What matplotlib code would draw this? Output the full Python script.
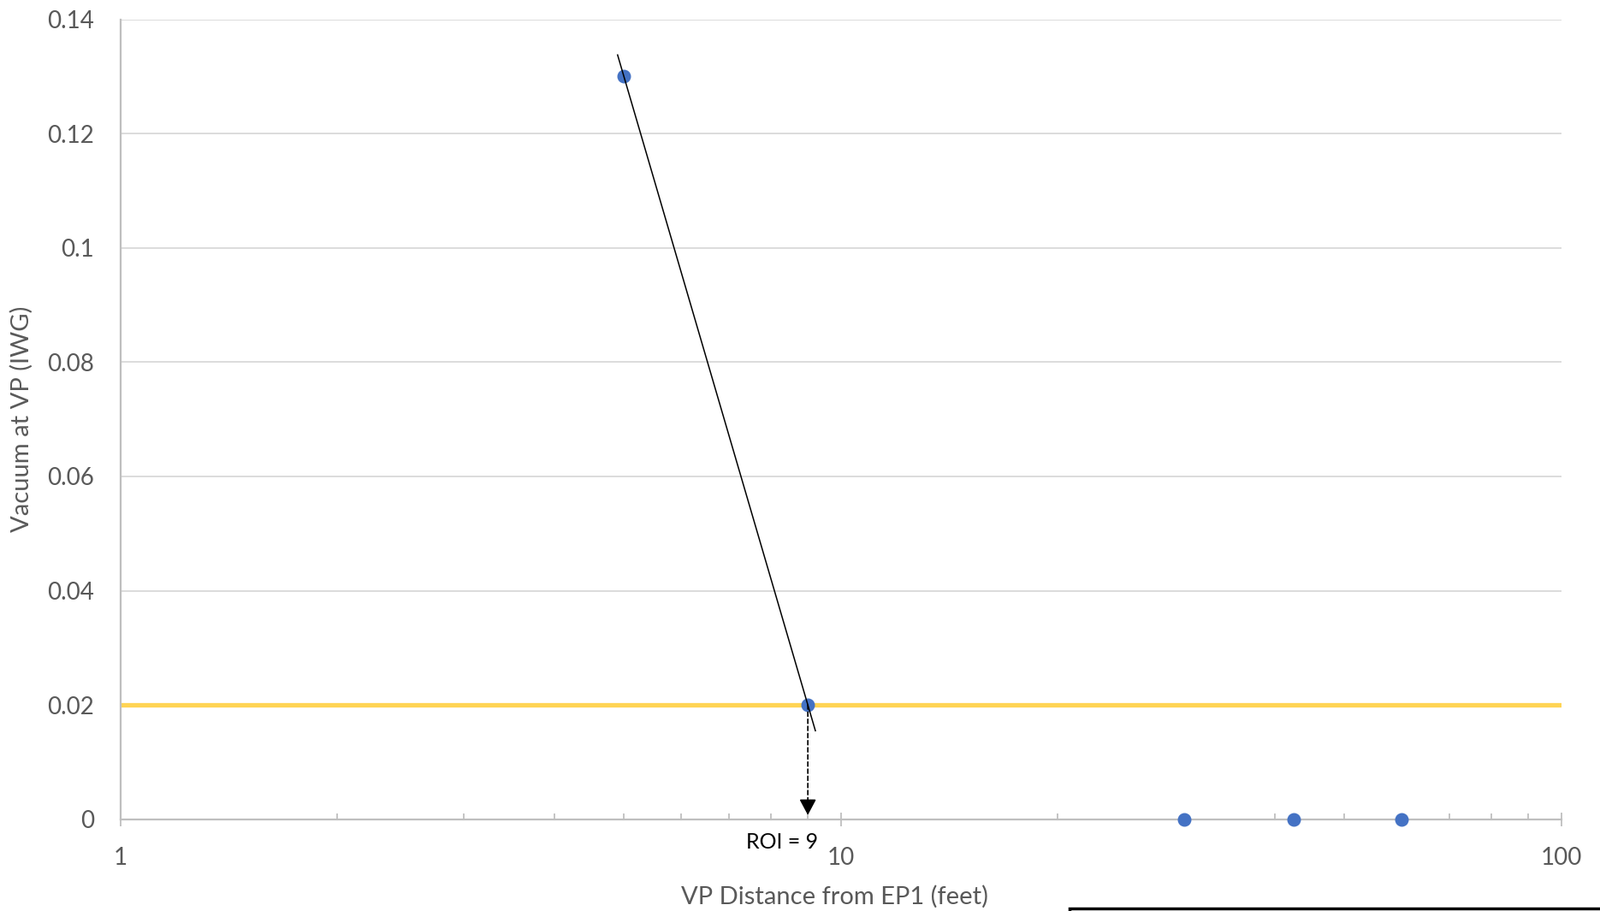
import numpy as np
import matplotlib
matplotlib.use('Agg')
import matplotlib.pyplot as plt
from matplotlib.ticker import MultipleLocator, FuncFormatter, LogLocator, NullFormatter
from matplotlib.patches import Rectangle

plt.rcParams['font.family'] = ['Lato', 'DejaVu Sans']

# data
distance_ft = [5, 9, 30, 42.5, 60]
vacuum_iwg = [0.13, 0.02, 0, 0, 0]
target_vacuum = 0.02
roi_ft = 9
trend_x_span = [4.9, 9.22]   # extent of the log trendline drawn in the sheet

grey = '#595959'

fig = plt.figure(figsize=(18.7, 10.65), dpi=100)
ax = fig.add_axes([0.0752, 0.1008, 0.9006, 0.8779])

ax.set_xscale('log')
ax.set_xlim(1, 100)
ax.set_ylim(0, 0.14)

# gridlines + axes styling (Excel look)
ax.yaxis.set_major_locator(MultipleLocator(0.02))
ax.yaxis.set_major_formatter(FuncFormatter(lambda v, p: f'{v:g}'))
ax.grid(axis='y', color='#D9D9D9', lw=1.3, zorder=0)
ax.set_axisbelow(True)
for s in ['top', 'right']:
    ax.spines[s].set_visible(False)
for s in ['left', 'bottom']:
    ax.spines[s].set_color('#BFBFBF')
    ax.spines[s].set_linewidth(1.6)

ax.xaxis.set_major_locator(LogLocator(base=10))
ax.xaxis.set_minor_locator(LogLocator(base=10, subs=np.arange(2, 10)))
ax.xaxis.set_major_formatter(FuncFormatter(lambda v, p: f'{v:g}'))
ax.xaxis.set_minor_formatter(NullFormatter())
ax.tick_params(axis='x', which='major', direction='inout', length=12, width=1.3,
               color='#BFBFBF', labelsize=20, labelcolor=grey, pad=17)
ax.tick_params(axis='x', which='minor', direction='in', length=5, width=1.3,
               color='#BFBFBF')
ax.tick_params(axis='y', length=0, labelsize=20, labelcolor=grey, pad=22)

# target vacuum line
ax.axhline(target_vacuum, color='#FFD454', lw=3.8, zorder=2)

# measured points
ax.plot(distance_ft, vacuum_iwg, 'o', color='#4472C4', ms=10.5, zorder=3,
        clip_on=False)

# logarithmic trendline through the first two points
a, b = np.polyfit(np.log(distance_ft[:2]), vacuum_iwg[:2], 1)
tx = np.linspace(trend_x_span[0], trend_x_span[1], 50)
ax.plot(tx, a * np.log(tx) + b, color='black', lw=1.1, zorder=4)

# ROI arrow: dashed shaft + solid head
ax.annotate('', xy=(roi_ft, 0), xytext=(roi_ft, target_vacuum),
            arrowprops=dict(arrowstyle='-', ls=(0, (3, 2)), color='black',
                            lw=1.2, shrinkA=0, shrinkB=12), zorder=4)
ax.annotate('', xy=(roi_ft, 0), xytext=(0, 14), textcoords='offset points',
            arrowprops=dict(arrowstyle='-|>,head_length=0.75,head_width=0.4',
                            mutation_scale=15, color='black', lw=1.2,
                            shrinkA=0, shrinkB=3.5), zorder=4)
ax.annotate(f'ROI = {roi_ft}', xy=(roi_ft, 0), xytext=(-30, -27),
            textcoords='offset pixels', ha='center', va='center',
            fontsize=18, color='black', annotation_clip=False)

ax.set_xlabel('VP Distance from EP1 (feet)', fontsize=21, color=grey)
ax.set_ylabel('Vacuum at VP (IWG)', fontsize=21, color=grey)
ax.xaxis.set_label_coords(0.4955, -0.083)
ax.yaxis.set_label_coords(-0.0605, 0.5)

# top edge of a text box cut off at the bottom right of the sheet
fig.patches.append(Rectangle((1250 / 1870, -0.05), 0.4, 0.05 + 3 / 1065,
                             transform=fig.transFigure, fill=False,
                             edgecolor='black', lw=2.5))

fig.savefig('out.png', dpi=100, facecolor='white')
